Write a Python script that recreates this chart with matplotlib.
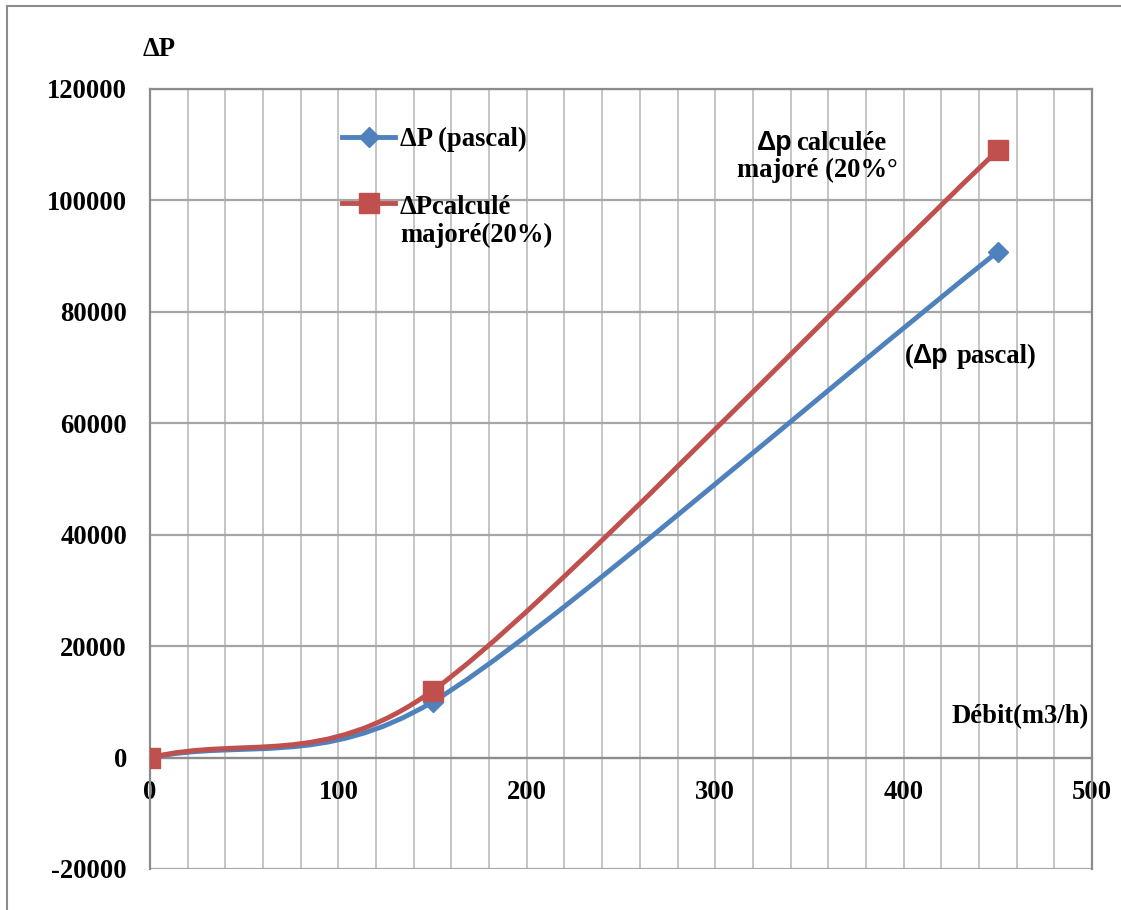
import numpy as np
import matplotlib.pyplot as plt
from matplotlib.path import Path
from matplotlib.patches import PathPatch
from matplotlib.lines import Line2D
from matplotlib.ticker import MultipleLocator

# data
debit = [0, 150, 450]
dp_pascal = [0, 10000, 90800]
dp_majore = [0, 12000, 109000]

blue = '#4f81bd'
red = '#c0504d'
W, H = 1121, 910
FS = 19.2

plt.rcParams['font.family'] = ['Liberation Serif', 'DejaVu Serif']
plt.rcParams['font.weight'] = 'bold'
plt.rcParams['axes.unicode_minus'] = False


def smooth_path(x, y, k=0.13):
    # Excel-like smoothed line: cubic bezier through the points
    p = np.column_stack([x, y]).astype(float)
    n = len(p)
    verts = [p[0]]
    codes = [Path.MOVETO]
    for i in range(n - 1):
        if i == 0:
            c1 = p[0] + (p[1] - p[0]) / 3
        else:
            c1 = p[i] + (p[i + 1] - p[i - 1]) * k
        if i + 1 == n - 1:
            c2 = p[i + 1] - (p[i + 1] - p[i]) / 3
        else:
            c2 = p[i + 1] - (p[i + 2] - p[i]) * k
        verts += [c1, c2, p[i + 1]]
        codes += [Path.CURVE4] * 3
    return Path(verts, codes)


def txt(x, y, s, **kw):
    # place text by pixel position (y measured from the top)
    kw.setdefault('fontsize', FS)
    kw.setdefault('va', 'baseline')
    kw.setdefault('ha', 'left')
    fig.text(x / W, 1 - y / H, s, **kw)


fig = plt.figure(figsize=(W / 100, H / 100), dpi=100)
ax = fig.add_axes([150 / W, 41 / H, 942 / W, 780 / H])

ax.set_xlim(0, 500)
ax.set_ylim(-20000, 120000)

for ys, col in [(dp_pascal, blue), (dp_majore, red)]:
    ax.add_patch(PathPatch(smooth_path(debit, ys), fill=False, edgecolor=col,
                           lw=3.5, capstyle='round', zorder=3))

ax.plot(debit, dp_pascal, linestyle='none', marker='D', color=blue,
        markersize=10, zorder=4)
ax.plot(debit, dp_majore, linestyle='none', marker='s', color=red,
        markersize=14.5, zorder=5)

# grid
ax.xaxis.set_major_locator(MultipleLocator(100))
ax.xaxis.set_minor_locator(MultipleLocator(20))
ax.yaxis.set_major_locator(MultipleLocator(20000))
ax.grid(which='both', axis='x', color='#c0c0c0', lw=1.3)
ax.grid(which='major', axis='y', color='#a6a6a6', lw=1.6)
ax.set_axisbelow(True)

for s in ax.spines.values():
    s.set_color('#8c8c8c')
    s.set_linewidth(1.6)
ax.spines['bottom'].set_position(('data', 0))

ax.tick_params(axis='both', which='both', length=0, labelsize=FS)
ax.tick_params(axis='x', pad=16)
ax.tick_params(axis='y', pad=16.5)
for lab in ax.get_xticklabels() + ax.get_yticklabels():
    lab.set_fontweight('bold')

# legend, drawn by hand to follow the original layout
for yy, col, mk, ms in [(137, blue, 'D', 10), (203, red, 's', 14.5)]:
    fig.add_artist(Line2D([342 / W, 395 / W], [1 - yy / H, 1 - yy / H],
                          transform=fig.transFigure, color=col, lw=3.5))
    fig.add_artist(Line2D([369 / W], [1 - yy / H], transform=fig.transFigure,
                          color=col, marker=mk, markersize=ms, linestyle='none'))
txt(400, 146, 'ΔP (pascal)')
txt(400, 214, 'ΔPcalculé')
txt(400, 242, 'majoré(20%)')

# annotations
sans = ['Liberation Sans', 'DejaVu Sans']
txt(143, 56, 'ΔP')
txt(757, 150, 'Δp', family=sans)
txt(796, 150, 'calculée')
txt(737, 177, 'majoré (20%°')
txt(905, 363, '(')
txt(913, 363, 'Δp', family=sans)
txt(957, 363, 'pascal)')
txt(951, 723, 'Débit(m3/h)')

# outer chart frame
fig.add_artist(Line2D([7 / W, 7 / W], [0, 1 - 6 / H],
                      transform=fig.transFigure, color='#8c8c8c', lw=1.5))
fig.add_artist(Line2D([7 / W, 1], [1 - 6 / H, 1 - 6 / H],
                      transform=fig.transFigure, color='#8c8c8c', lw=1.5))

fig.savefig('out.png', dpi=100)
